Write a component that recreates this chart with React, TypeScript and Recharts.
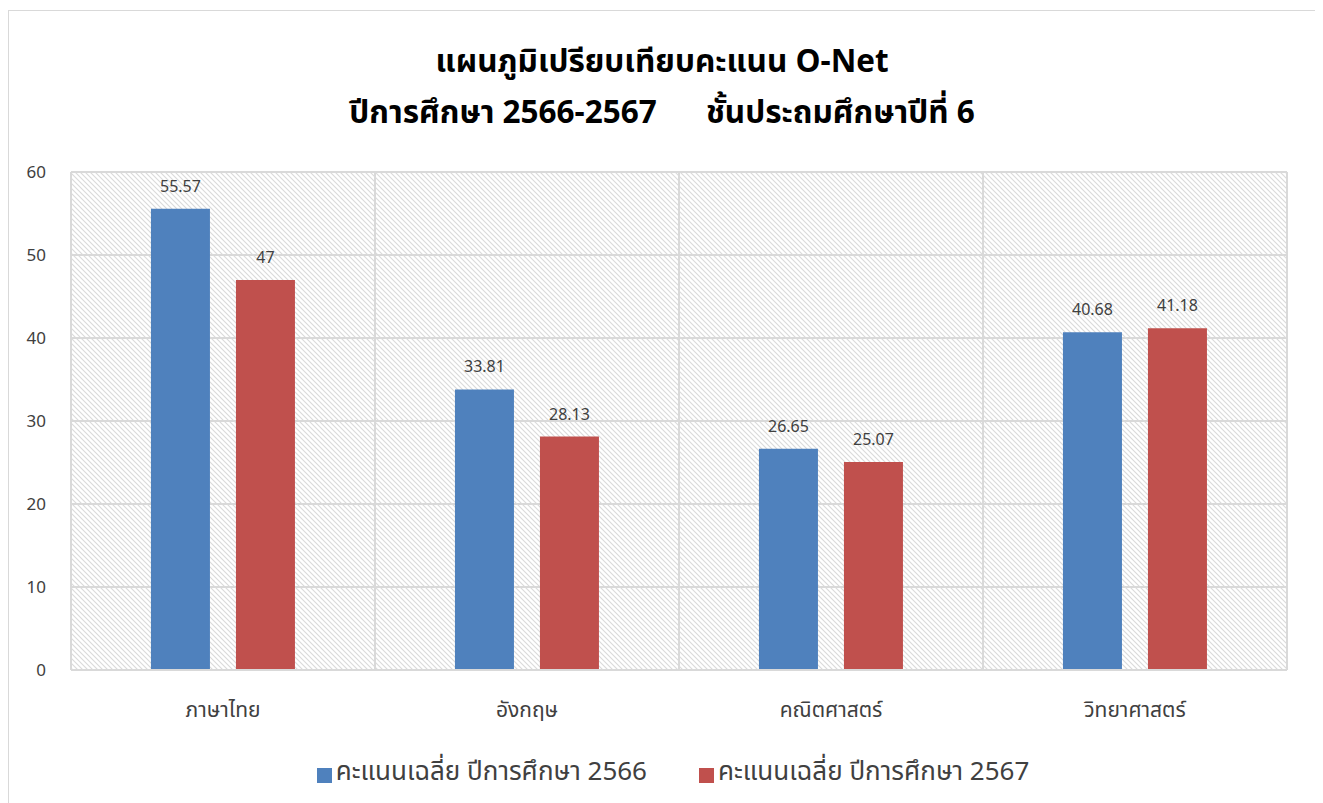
import { BarChart, Bar, XAxis, YAxis, CartesianGrid, Legend, LabelList } from 'recharts';

const categories = ['ภาษาไทย', 'อังกฤษ', 'คณิตศาสตร์', 'วิทยาศาสตร์'];
const score2566 = [55.57, 33.81, 26.65, 40.68];
const score2567 = [47, 28.13, 25.07, 41.18];
const yTicks = [0, 10, 20, 30, 40, 50, 60];

const seriesNames = ['คะแนนเฉลี่ย ปีการศึกษา 2566', 'คะแนนเฉลี่ย ปีการศึกษา 2567'];

const chartData = categories.map((name, i) => ({
  name,
  y2566: score2566[i],
  y2567: score2567[i],
}));

const FONT = "'Noto Sans Thai', Tahoma, 'Noto Sans', sans-serif";
const TEXT = '#404040';

function HatchDefs() {
  return (
    <svg width={0} height={0} style={{ position: 'absolute' }}>
      <defs>
        <pattern id="hatch" patternUnits="userSpaceOnUse" width={5} height={5}>
          <rect width={5} height={5} fill="#ffffff" />
          <path d="M0,0 L5,5 M-1,4 L1,6 M4,-1 L6,1" stroke="#dadada" strokeWidth={1.1} />
        </pattern>
      </defs>
    </svg>
  );
}

export default function App() {
  return (
    <div
      style={{
        position: 'relative',
        marginTop: 2,
        width: 1308,
        height: 800,
        boxSizing: 'border-box',
        border: '1px solid #d9d9d9',
        background: '#fff',
        fontFamily: FONT,
      }}
    >
      <HatchDefs />
      <div
        style={{
          position: 'absolute',
          top: 26,
          left: 0,
          width: 1306,
          textAlign: 'center',
          fontWeight: 'bold',
          fontSize: 31.5,
          lineHeight: '51px',
          color: '#000',
          whiteSpace: 'pre',
        }}
      >
        <div>แผนภูมิเปรียบเทียบคะแนน O-Net</div>
        <div>{'ปีการศึกษา 2566-2567      ชั้นประถมศึกษาปีที่ 6'}</div>
      </div>
      <BarChart
        width={1306}
        height={789}
        data={chartData}
        margin={{ top: 161, right: 28, left: 0, bottom: 8 }}
        barCategoryGap="26.3%"
        barGap={26}
      >
        <CartesianGrid
          fill="url(#hatch)"
          fillOpacity={1}
          stroke="#d9d9d9"
          strokeWidth={2}
          verticalCoordinatesGenerator={({ offset }: any) =>
            [0, 1, 2, 3, 4].map((i) => offset.left + (i * offset.width) / 4)
          }
        />
        <XAxis
          dataKey="name"
          axisLine={{ stroke: '#d9d9d9', strokeWidth: 2 }}
          tickLine={false}
          tickSize={0}
          tickMargin={32}
          height={82}
          tick={{ fontSize: 21, fill: TEXT, fontFamily: FONT }}
        />
        <YAxis
          domain={[0, 60]}
          ticks={yTicks}
          axisLine={false}
          tickLine={false}
          tickSize={0}
          tickMargin={25}
          width={62}
          tick={{ fontSize: 17, fill: TEXT, fontFamily: FONT }}
        />
        <Legend
          verticalAlign="bottom"
          iconType="square"
          iconSize={15}
          wrapperStyle={{ fontFamily: FONT, paddingLeft: 30 }}
          formatter={(value: string, _entry: any, index: number) => (
            <span style={{ color: TEXT, fontSize: 26, marginRight: index === 0 ? 42 : 0 }}>{value}</span>
          )}
        />
        <Bar dataKey="y2566" name={seriesNames[0]} fill="#4f81bd" isAnimationActive={false}>
          <LabelList dataKey="y2566" position="top" offset={17} fill={TEXT} fontSize={16} fontFamily={FONT} />
        </Bar>
        <Bar dataKey="y2567" name={seriesNames[1]} fill="#c0504d" isAnimationActive={false}>
          <LabelList dataKey="y2567" position="top" offset={17} fill={TEXT} fontSize={16} fontFamily={FONT} />
        </Bar>
      </BarChart>
    </div>
  );
}
